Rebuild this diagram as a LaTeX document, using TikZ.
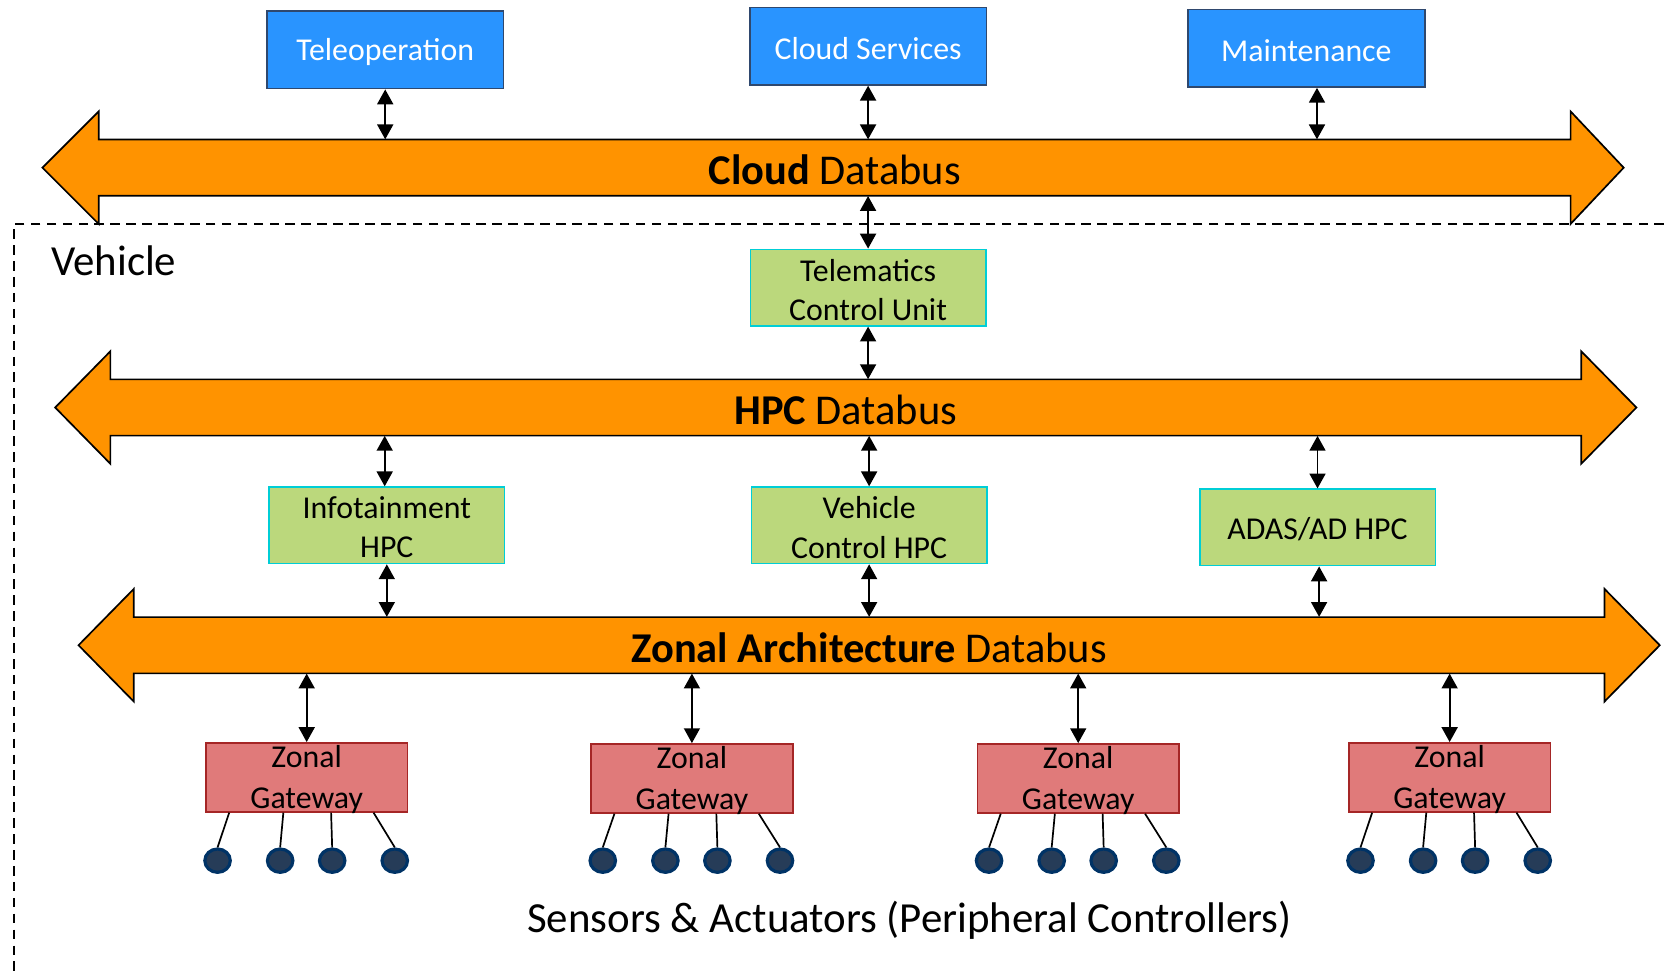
\documentclass[tikz,border=0pt]{standalone}
\usepackage{fontspec}
\setmainfont{Carlito}
\usetikzlibrary{arrows.meta,shapes.geometric}

\definecolor{busorange}{RGB}{255,147,0}
\definecolor{cloudblue}{RGB}{41,148,255}
\definecolor{cloudedge}{RGB}{47,72,110}
\definecolor{hpcgreen}{RGB}{187,216,124}
\definecolor{hpcedge}{RGB}{0,206,214}
\definecolor{zonered}{RGB}{224,122,122}
\definecolor{zoneedge}{RGB}{165,38,38}
\definecolor{sensorring}{RGB}{0,51,102}
\definecolor{sensorfill}{RGB}{38,60,88}

\tikzset{
  bus/.style={draw=black, line width=1.6pt, fill=busorange, line join=miter},
  busarea/.style={inner sep=0pt, minimum height=53pt},
  buslabel/.style={inner sep=0pt, yshift=-2pt, font=\fontsize{40}{48}\selectfont},
  cloudbox/.style={draw=cloudedge, line width=1.5pt, fill=cloudblue,
    inner sep=0pt, minimum width=223pt, minimum height=73pt},
  hpcbox/.style={draw=hpcedge, line width=1.5pt, fill=hpcgreen,
    inner sep=0pt, minimum width=222pt, minimum height=72pt},
  gatebox/.style={draw=zoneedge, line width=1.5pt, fill=zonered,
    inner sep=0pt, minimum width=190pt, minimum height=65pt},
  boxtext/.style={align=center, inner sep=0pt, yshift=-2pt, font=\fontsize{30}{37}\selectfont},
  gatetext/.style={boxtext, font=\fontsize{30}{38}\selectfont},
  sensor/.style={ellipse, draw=sensorring, line width=3pt, fill=sensorfill,
    inner sep=0pt, minimum width=24pt, minimum height=22pt},
  link/.style={line width=1.8pt, {Triangle[length=14pt,width=15pt]}-{Triangle[length=14pt,width=15pt]}},
  wire/.style={line width=1.6pt},
  frame/.style={line width=1.5pt, dash pattern=on 9pt off 6pt},
  biglabel/.style={inner sep=0pt, font=\fontsize{40.4}{48}\selectfont}
}

% double-headed data bus: left tip x, left head base x, right head base x, right tip x, centre y
\newcommand{\drawbus}[5]{%
  \draw[bus] (#1,#5) -- (#2,#5-53) -- (#2,#5-26.5) -- (#3,#5-26.5) -- (#3,#5-53)
    -- (#4,#5) -- (#3,#5+53) -- (#3,#5+26.5) -- (#2,#5+26.5) -- (#2,#5+53) -- cycle;}

\begin{document}
\begin{tikzpicture}[x=1pt, y=-1pt]
\useasboundingbox (0,0) rectangle (1568,918);

% vehicle boundary
\draw[frame] (1568,211) -- (13,211) -- (13,918);
\node[biglabel, anchor=west] (vehicle) at (48,246) {Vehicle};

% cloud side services
\node[cloudbox] (tele)  at (363,47)   {};
\node[cloudbox] (cserv) at (818,43.5) {};
\node[cloudbox] (maint) at (1231,45.5) {};
\node[boxtext, text=white] at (tele)  {Teleoperation};
\node[boxtext, text=white] at (cserv) {Cloud Services};
\node[boxtext, text=white] at (maint) {Maintenance};

% the three data buses
\drawbus{40}{93}{1480}{1530}{158}
\node[busarea, minimum width=1387pt] (cloudbus) at (786.5,158) {};
\node[buslabel] at (cloudbus) {\textbf{Cloud} Databus};

\drawbus{52}{104}{1490}{1542}{384}
\node[busarea, minimum width=1386pt] (hpcbus) at (797,384) {};
\node[buslabel] at (hpcbus) {\textbf{HPC} Databus};

\drawbus{74}{126}{1512}{1564}{608}
\node[busarea, minimum width=1386pt] (zonalbus) at (819,608) {};
\node[buslabel] at (zonalbus) {\textbf{Zonal Architecture} Databus};

% compute units
\node[hpcbox] (tcu)   at (818,271)    {};
\node[hpcbox] (info)  at (364.5,495)  {};
\node[hpcbox] (vctrl) at (819,495)    {};
\node[hpcbox] (adas)  at (1241.5,497) {};
\node[boxtext] at (tcu)   {Telematics\\Control Unit};
\node[boxtext] at (info)  {Infotainment\\HPC};
\node[boxtext] at (vctrl) {Vehicle\\Control HPC};
\node[boxtext] at (adas)  {ADAS/AD HPC};

% zonal gateways with their peripheral controllers
\foreach \g/\cx/\cy in {g1/289/732.5, g2/652/733.5, g3/1016/733.5, g4/1366/732.5}{
  \node[gatebox] (\g) at (\cx,\cy) {};
  \node[gatetext] at (\g) {Zonal\\Gateway};
  \foreach \k/\sx/\wx in {1/-84/-73, 2/-25/-22, 3/24/23, 4/83/63}{
    \node[sensor] (\g-s\k) at (\cx+\sx,811) {};
    \draw[wire] ([xshift=\wx pt]\g.south) -- (\g-s\k.north);
  }
}

\node[biglabel] (sensors) at (857,867) {Sensors \& Actuators (Peripheral Controllers)};

% bidirectional links
\draw[link] (tele.south) -- (tele.south |- cloudbus.north);
\draw[link] (cserv.south) -- (cserv.south |- cloudbus.north);
\draw[link] ([xshift=10pt]maint.south) -- ([xshift=10pt]maint.south |- cloudbus.north);

\draw[link] (tcu.north |- cloudbus.south) -- (tcu.north);
\draw[link] (tcu.south) -- (tcu.south |- hpcbus.north);

\draw[link] ([xshift=-2pt]info.north |- hpcbus.south) -- ([xshift=-2pt]info.north);
\draw[link] (vctrl.north |- hpcbus.south) -- (vctrl.north);
\draw[link] (adas.north |- hpcbus.south) -- (adas.north);

\draw[link] (info.south) -- (info.south |- zonalbus.north);
\draw[link] (vctrl.south) -- (vctrl.south |- zonalbus.north);
\draw[link] ([xshift=1.5pt]adas.south) -- ([xshift=1.5pt]adas.south |- zonalbus.north);

\foreach \g in {g1,g2,g3,g4}{
  \draw[link] (\g.north |- zonalbus.south) -- (\g.north);
}
\end{tikzpicture}
\end{document}
